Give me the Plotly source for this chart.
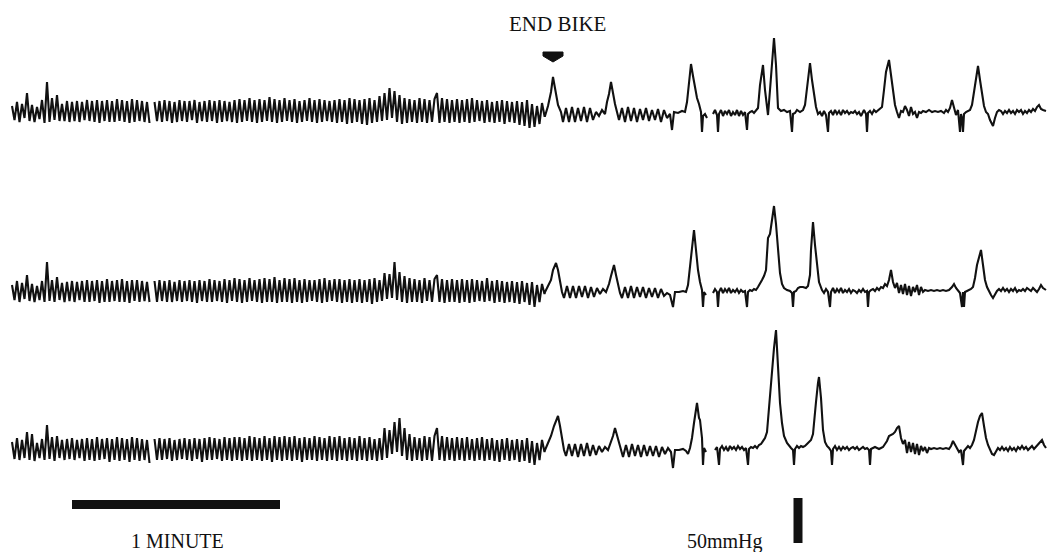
import plotly.graph_objects as go

W, H = 1047, 552
DT = 2.5          # sampling step of the dense (exercise) part, chart time units
T0 = 12           # first sample time
END_BIKE_T = 553  # time of "END BIKE" event
MINUTE = 208      # length of one minute in chart time units
MMHG50 = 45       # 50 mmHg in trace value units

# ---- Trace 1 -------------------------------------------------------------
t1_dense = [
    4, -10, 8, -12, 6, -8, 17, -11, 5, -12,
    3, -9, 10, -13, 28, -12, 12, -10, 15, -11,
    6, -11, 9, -12, 8, -11, 9, -12, 8, -10,
    10, -11, 9, -12, 10, -13, 9, -11, 10, -12,
    9, -12, 11, -11, 10, -12, 9, -13, 11, -12,
    10, -11, 9, -12, 8, -13, None, 8, -11, 9,
    -12, 10, -11, 9, -13, 8, -12, 10, -11, 9,
    -12, 9, -10, 10, -13, 8, -11, 9, -12, 10,
    -11, 9, -13, 10, -12, 9, -11, 8, -12, 10,
    -13, 11, -12, 10, -11, 12, -12, 10, -13, 11,
    -12, 10, -11, 13, -12, 11, -13, 10, -12, 12,
    -11, 10, -12, 11, -13, 9, -12, 10, -11, 12,
    -12, 10, -13, 11, -12, 10, -11, 9, -12, 10,
    -13, 11, -12, 10, -14, 12, -13, 11, -12, 10,
    -14, 11, -15, 12, -13, 10, -12, 14, -11, 17,
    -10, 22, -8, 19, -12, 15, -14, 12, -13, 11,
    -12, 10, -13, 12, -12, 11, -13, 10, -12, 11,
    17, -13, 12, -12, 11, -13, 10, -12, 11, -13,
    10, -12, 11, -13, 12, -12, 10, -11, 9, -13,
    10, -12, 8, -13, 9, -12, 10, -14, 9, -12,
    8, -13, 9, -15, 8, -16, 10, -18, 6, -17,
    4, -14, 7, -6,
]
t1_post = [
    (545, -6), (548, 4), (551, 18), (553, 33), (555, 22), (558, 5), (561, -2), (563, -12),
    (566, 2), (569, -12), (572, 3), (575, -12), (578, 2), (581, -11), (584, 3), (587, -12),
    (590, 2), (593, -10), (596, -2), (599, -6), (602, 0), (605, -4), (607, 8), (609, 16),
    (611, 28), (613, 16), (615, 6), (617, -2), (619, -10), (622, 2), (625, -12), (628, 3),
    (631, -11), (634, 2), (637, -12), (640, 1), (643, -10), (646, 2), (649, -11), (652, 0),
    (655, -10), (658, 1), (661, -12), (664, 0), (667, -8), (670, -4), (672, -20), (674, -2),
    (678, -3), (682, -1), (685, -2), (687, 8), (689, 30), (691, 46), (693, 34), (695, 24),
    (697, 12), (699, 6), (701, -2), (702, -22), (703, -6), (705, -4), (707, -8), (708, None),
    (713, -4), (715, 0), (717, -5), (718, -22), (719, -4), (721, 0), (723, -6), (725, -1),
    (727, -4), (729, 0), (731, -6), (733, -2), (735, -5), (737, 0), (739, -6), (741, -1),
    (743, -5), (745, -2), (747, -20), (748, -4), (750, -2), (752, -1), (754, -3), (756, 0),
    (758, 2), (760, 25), (763, 45), (765, 20), (768, -5), (770, 20), (772, 45), (774, 72),
    (776, 45), (778, 2), (781, -1), (784, 0), (787, -2), (790, -1), (792, -22), (793, -4),
    (795, -3), (797, 0), (800, -2), (803, 0), (805, 5), (807, 20), (810, 47), (812, 30),
    (814, 14), (816, 3), (818, -4), (820, -2), (822, -6), (824, -1), (826, -5), (828, -22),
    (829, -3), (831, -1), (833, -5), (835, 0), (837, -4), (839, -1), (841, -5), (843, 0),
    (845, -3), (847, -1), (849, -4), (851, -2), (853, -3), (855, -1), (857, -4), (859, -2),
    (861, -6), (864, 0), (866, -4), (867, -22), (868, -3), (870, -1), (872, -4), (874, 0),
    (876, -2), (878, 0), (880, 1), (882, 3), (884, 20), (886, 38), (889, 50), (891, 35),
    (893, 18), (895, 5), (897, -2), (899, -8), (901, -1), (903, -2), (905, 4), (907, 0),
    (909, -6), (911, 3), (913, -4), (915, -2), (917, -8), (919, -2), (921, -3), (923, -1),
    (926, -2), (929, 0), (932, -2), (935, -1), (938, -2), (941, -1), (944, -3), (946, 0),
    (948, -2), (950, 2), (952, 10), (954, 3), (956, -5), (958, 0), (960, -22), (961, -4),
    (962, -8), (963, -22), (964, -4), (966, -2), (968, -1), (970, 0), (972, 5), (974, 18),
    (976, 34), (978, 44), (980, 30), (982, 16), (984, 4), (986, -2), (988, -4), (990, -10),
    (993, -16), (995, -8), (997, -2), (999, 0), (1001, -1), (1003, -4), (1005, -1), (1007, -3),
    (1009, 0), (1011, -3), (1013, -1), (1015, -4), (1017, 0), (1019, -2), (1021, 0), (1023, -4),
    (1025, -1), (1027, -3), (1029, 0), (1031, -2), (1033, 1), (1035, -1), (1037, 3), (1039, 5),
    (1041, 1), (1043, 0), (1046, -1),
]

# ---- Trace 2 -------------------------------------------------------------
t2_dense = [
    5, -10, 9, -12, 7, -9, 15, -11, 6, -12,
    4, -10, 9, -12, 28, -11, 10, -12, 13, -10,
    7, -12, 8, -11, 9, -12, 8, -10, 9, -12,
    10, -12, 9, -11, 10, -13, 9, -12, 11, -12,
    9, -11, 10, -12, 11, -12, 9, -13, 10, -11,
    10, -12, 9, -11, 8, -12, None, 9, -12, 10,
    -11, 9, -12, 10, -12, 8, -11, 10, -12, 9,
    -11, 10, -12, 9, -13, 10, -11, 9, -12, 11,
    -12, 10, -11, 9, -12, 11, -13, 10, -11, 12,
    -12, 11, -13, 10, -12, 12, -11, 10, -12, 11,
    -13, 12, -12, 11, -12, 13, -13, 10, -12, 12,
    -12, 11, -13, 12, -12, 10, -13, 11, -12, 10,
    -11, 10, -12, 11, -13, 12, -12, 10, -11, 11,
    -12, 11, -13, 10, -12, 11, -13, 10, -12, 11,
    -13, 10, -12, 11, -14, 12, -12, 10, -11, 17,
    -9, 16, -8, 28, -10, 18, -12, 14, -13, 12,
    -12, 11, -12, 10, -13, 12, -11, 10, -12, 11,
    15, -12, 11, -13, 10, -12, 11, -12, 10, -13,
    11, -12, 10, -13, 11, -12, 10, -11, 9, -12,
    12, -11, 9, -13, 10, -12, 9, -13, 8, -12,
    9, -13, 8, -14, 9, -12, 7, -15, 8, -17,
    5, -12, 6, -4,
]
t2_post = [
    (545, -2), (548, 4), (551, 10), (553, 20), (556, 27), (558, 20), (560, 8), (562, -2),
    (564, -8), (567, 4), (570, -8), (573, 4), (576, -8), (579, 4), (582, -7), (585, 4),
    (588, -8), (591, 3), (594, -7), (597, 2), (600, -4), (603, 1), (606, -2), (609, 6),
    (611, 14), (614, 25), (616, 15), (618, 4), (620, -3), (622, -8), (625, 3), (628, -8),
    (631, 4), (634, -8), (637, 3), (640, -7), (643, 3), (646, -8), (649, 2), (652, -7),
    (655, 2), (658, -8), (661, 1), (664, -6), (667, -3), (670, -5), (673, -17), (675, -2),
    (679, -2), (683, -1), (686, -2), (688, 5), (690, 22), (692, 40), (694, 60), (696, 40),
    (698, 20), (700, 8), (702, 0), (703, -17), (704, -2), (706, -5), (707, None),
    (713, -3), (715, 1), (717, -2), (718, -17), (719, -2), (721, 2), (723, -3), (725, 1),
    (727, -2), (729, 2), (731, -3), (733, 0), (735, -2), (737, 1), (739, -3), (741, 0),
    (743, -2), (745, -1), (747, -17), (748, -2), (750, 0), (752, -1), (754, 1), (756, 0),
    (758, 3), (760, 6), (762, 10), (764, 14), (766, 20), (768, 52), (770, 56), (772, 70),
    (774, 84), (776, 66), (778, 45), (780, 17), (782, 6), (784, 2), (787, 0), (790, -1),
    (792, -3), (793, -17), (794, -2), (796, -1), (798, 2), (800, 3), (803, 3), (806, 2),
    (808, 4), (810, 15), (811, 40), (813, 68), (815, 45), (817, 23), (819, 8), (822, 0),
    (824, -3), (826, 1), (828, -2), (830, -17), (831, -2), (833, 2), (835, -3), (837, 1),
    (839, -2), (841, 2), (843, -3), (845, 0), (847, -2), (849, 1), (851, -3), (853, 0),
    (855, -1), (857, -3), (859, 0), (861, -2), (863, 1), (865, -2), (867, -1), (868, -17),
    (869, -2), (871, 0), (873, 1), (875, -1), (877, 2), (879, 0), (881, 3), (883, 2),
    (885, 6), (887, 4), (889, 10), (891, 20), (893, 8), (895, 2), (897, 7), (899, -3),
    (901, 5), (903, -4), (905, 6), (907, -5), (909, 4), (911, -6), (913, 3), (915, -2),
    (917, 5), (919, -5), (921, 3), (923, -2), (925, 0), (928, -1), (931, 0), (934, -1),
    (937, 0), (940, -1), (943, 0), (946, -1), (949, 0), (952, 3), (954, 6), (956, 2),
    (958, -1), (960, -3), (962, -17), (963, -2), (964, -17), (965, -2), (967, -1), (969, 0),
    (971, 1), (973, 3), (975, 12), (977, 25), (979, 32), (981, 40), (983, 25), (985, 10),
    (987, 3), (989, -2), (991, -5), (993, -8), (995, -4), (997, -1), (999, 1), (1001, -1),
    (1003, 2), (1005, -1), (1007, 1), (1009, -2), (1011, 1), (1013, -1), (1015, 2), (1017, -2),
    (1019, 0), (1021, -1), (1023, 1), (1025, -1), (1027, 2), (1029, 0), (1031, -1), (1033, 2),
    (1035, 0), (1037, -2), (1039, 1), (1041, 5), (1043, 2), (1046, 0),
]

# ---- Trace 3 -------------------------------------------------------------
t3_dense = [
    6, -11, 10, -12, 8, -10, 16, -12, 14, -13,
    5, -10, 9, -12, 23, -11, 11, -13, 12, -10,
    8, -12, 9, -11, 10, -12, 8, -10, 9, -13,
    10, -12, 9, -13, 11, -12, 9, -11, 10, -14,
    9, -12, 11, -13, 10, -12, 9, -14, 11, -12,
    10, -13, 9, -12, 8, -15, None, 9, -12, 10,
    -12, 9, -11, 10, -13, 8, -12, 9, -11, 10,
    -12, 9, -13, 10, -11, 9, -14, 10, -12, 11,
    -12, 10, -11, 9, -13, 11, -12, 10, -13, 11,
    -12, 11, -13, 10, -12, 12, -13, 11, -12, 10,
    -13, 12, -12, 10, -14, 12, -12, 11, -13, 12,
    -12, 11, -13, 12, -12, 10, -14, 11, -12, 10,
    -12, 12, -13, 11, -12, 10, -13, 12, -12, 11,
    -13, 12, -12, 10, -13, 11, -12, 10, -13, 12,
    -12, 10, -13, 11, -12, 9, -13, 10, -12, 20,
    -10, 18, -6, 26, -4, 30, -8, 20, -12, 14,
    -13, 11, -12, 10, -13, 12, -12, 11, -13, 12,
    20, -12, 12, -13, 11, -12, 10, -13, 11, -12,
    10, -13, 11, -12, 9, -13, 10, -12, 11, -13,
    9, -12, 10, -13, 8, -14, 9, -12, 10, -13,
    8, -12, 9, -14, 8, -13, 10, -15, 7, -17,
    5, -12, 8, -4,
]
t3_post = [
    (545, -2), (548, 5), (551, 12), (554, 22), (556, 28), (558, 32), (560, 22), (562, 8),
    (564, -2), (566, -8), (569, 4), (572, -8), (575, 4), (578, -9), (581, 4), (584, -8),
    (587, 5), (590, -8), (593, 3), (596, -7), (599, 2), (602, -4), (605, 1), (608, -2),
    (611, 6), (613, 12), (615, 20), (617, 12), (619, 4), (621, -4), (623, -9), (626, 3),
    (629, -9), (632, 4), (635, -8), (638, 3), (641, -9), (644, 3), (647, -8), (650, 2),
    (653, -8), (656, 2), (659, -9), (662, 1), (665, -6), (668, 0), (671, -4), (673, -20),
    (675, -2), (679, -2), (683, -1), (686, -3), (688, -6), (690, 0), (692, 10), (694, 25),
    (697, 45), (699, 30), (700, 28), (702, 10), (703, -17), (704, 0), (706, -4), (707, None),
    (715, -2), (717, 1), (719, -17), (720, -1), (722, 2), (724, -2), (726, 1), (728, -3),
    (730, 2), (732, -1), (734, 1), (736, -2), (738, 2), (740, -1), (742, 1), (744, -2),
    (746, 0), (748, -17), (749, -1), (751, 1), (753, 0), (755, 2), (757, 0), (759, 3),
    (761, 4), (763, 7), (765, 10), (767, 16), (769, 40), (771, 70), (772, 78), (774, 100),
    (776, 118), (778, 80), (780, 45), (782, 25), (784, 12), (787, 5), (789, 2), (791, 0),
    (793, -2), (794, -17), (795, -1), (797, 2), (799, 0), (801, 2), (803, 1), (805, 2),
    (807, 4), (809, 6), (811, 8), (813, 14), (815, 40), (816, 46), (818, 65), (819, 71),
    (821, 50), (823, 18), (825, 6), (827, 2), (829, 0), (831, -3), (832, -17), (833, -1),
    (835, 2), (837, -2), (839, 1), (841, -2), (843, 1), (845, -1), (847, 1), (849, -2),
    (851, 0), (853, 1), (855, -1), (857, 1), (859, -2), (861, 0), (863, 1), (865, -1),
    (867, 0), (869, -2), (870, -17), (871, -1), (873, 0), (875, 1), (877, 0), (879, -1),
    (881, 0), (883, 1), (885, 4), (887, 7), (889, 12), (891, 13), (893, 14), (895, 16),
    (897, 20), (899, 22), (901, 10), (903, 4), (905, 8), (907, -5), (909, 6), (911, -4),
    (913, 5), (915, -6), (917, 4), (919, -7), (921, 2), (923, -3), (925, 1), (927, -5),
    (929, 0), (931, -1), (934, 0), (937, -1), (940, 0), (943, -1), (946, 0), (949, -1),
    (951, 2), (953, 7), (955, 3), (957, -1), (959, -4), (961, -2), (963, -17), (964, -3),
    (966, -1), (968, 2), (970, 0), (972, 3), (974, 8), (976, 18), (978, 26), (980, 32),
    (982, 35), (984, 22), (986, 10), (988, 3), (990, -2), (992, -6), (994, -7), (996, -3),
    (998, 0), (1000, -2), (1002, 1), (1004, -2), (1006, 0), (1008, -3), (1010, 1), (1012, -2),
    (1014, 0), (1016, -3), (1018, 1), (1020, -1), (1022, 2), (1024, -1), (1026, 1), (1028, -2),
    (1030, 0), (1032, 2), (1034, -1), (1036, 1), (1038, 3), (1040, 5), (1042, 8), (1044, 3),
    (1046, 0),
]

# ---- layout helpers (pixel bands for each trace: top, bottom, baseline) ---
BANDS = [(0, 170, 110), (170, 320, 290), (320, 552, 448)]


def series(dense, post):
    t = [T0 + DT * i for i in range(len(dense))]
    v = list(dense)
    for tt, vv in post:
        t.append(tt)
        v.append(vv)
    return t, v


fig = go.Figure()
INK = "#111111"
for k, (dense, post) in enumerate([(t1_dense, t1_post), (t2_dense, t2_post), (t3_dense, t3_post)]):
    t, v = series(dense, post)
    fig.add_trace(go.Scatter(
        x=t, y=v, mode="lines", yaxis="y" if k == 0 else f"y{k + 1}",
        line=dict(color=INK, width=2.1), connectgaps=False, hoverinfo="skip",
        showlegend=False,
    ))

layout_axes = {}
for k, (top, bot, base) in enumerate(BANDS):
    name = "yaxis" if k == 0 else f"yaxis{k + 1}"
    layout_axes[name] = dict(
        domain=[1 - bot / H, 1 - top / H], range=[base - bot, base - top],
        visible=False, fixedrange=True,
    )

SERIF = "Liberation Serif, Times New Roman, serif"

fig.update_layout(
    width=W, height=H, margin=dict(l=0, r=0, t=0, b=0),
    paper_bgcolor="white", plot_bgcolor="white",
    xaxis=dict(range=[0, W], visible=False, fixedrange=True, domain=[0, 1]),
    **layout_axes,
)

# END BIKE arrow (downward pentagon) on trace-1 axis
ax = END_BIKE_T
fig.add_shape(
    type="path", xref="x", yref="y",
    path=f"M {ax - 10},58 L {ax + 10},58 L {ax + 10},54 L {ax},48 L {ax - 10},54 Z",
    fillcolor=INK, line=dict(color=INK, width=1),
)
fig.add_annotation(x=ax + 4, y=86, xref="x", yref="y", text="END BIKE", showarrow=False,
                   font=dict(family=SERIF, size=21, color=INK), xanchor="center", yanchor="middle")

# time scale bar (1 minute) on trace-3 axis
BAR_T0 = 72
fig.add_shape(type="rect", xref="x", yref="y3", x0=BAR_T0, x1=BAR_T0 + MINUTE, y0=-61, y1=-52,
              fillcolor=INK, line=dict(color=INK, width=0))
fig.add_annotation(x=BAR_T0 + MINUTE / 2 + 1, y=-93, xref="x", yref="y3", text="1 MINUTE",
                   showarrow=False, font=dict(family=SERIF, size=20, color=INK))

# pressure scale bar (50 mmHg)
PBAR_T = 798
PBAR_TOP = -50
fig.add_shape(type="rect", xref="x", yref="y3", x0=PBAR_T - 4.5, x1=PBAR_T + 4.5,
              y0=PBAR_TOP - MMHG50, y1=PBAR_TOP, fillcolor=INK, line=dict(color=INK, width=0))
fig.add_annotation(x=725, y=-93, xref="x", yref="y3", text="50mmHg",
                   showarrow=False, font=dict(family=SERIF, size=20, color=INK))

fig.write_html(
    "out.html",
    config={"displayModeBar": False},
    post_script="document.body.style.margin='0';document.body.style.overflow='hidden';",
)
